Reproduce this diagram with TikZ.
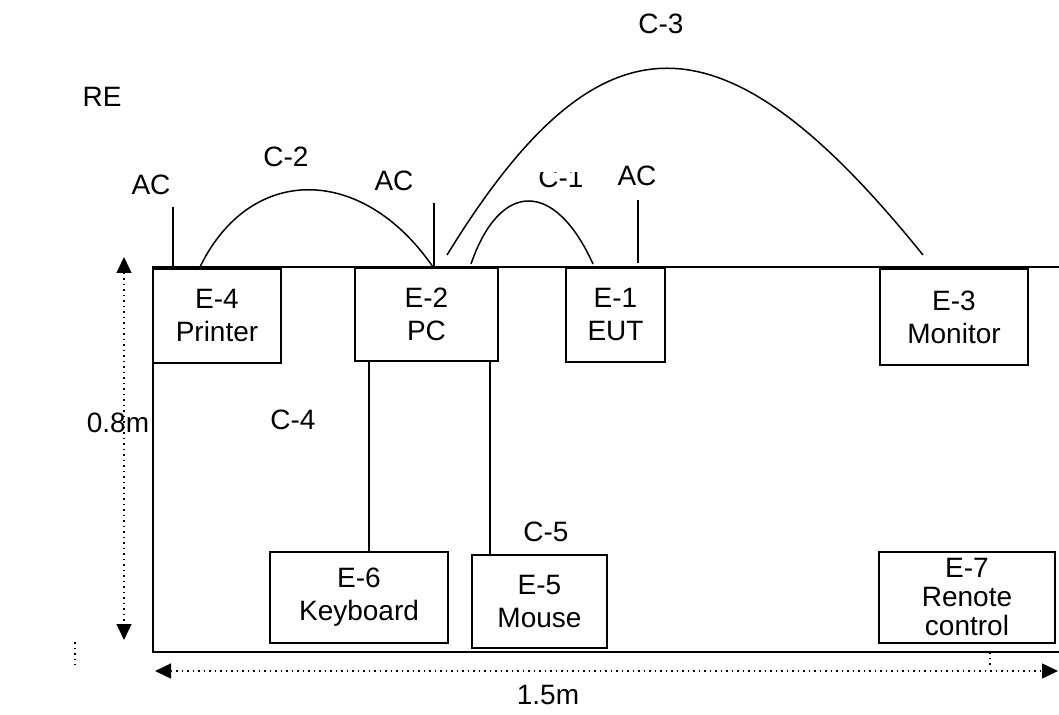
\documentclass[tikz,border=0pt]{standalone}
\usepackage{fontspec}
\setmainfont{Liberation Sans}
\usetikzlibrary{arrows.meta}
\begin{document}
\begin{tikzpicture}[x=0.5pt, y=-0.5pt,
    every node/.style = {font=\fontsize{14}{16.5}\selectfont, align=center, inner sep=0pt},
    unit/.style = {shape=rectangle, draw, line width=0.75pt},
    cable/.style = {line width=0.75pt},
    dimline/.style = {dotted, line width=0.75pt,
      {Triangle[length=8pt,width=7.5pt]}-{Triangle[length=8pt,width=7.5pt]}}]
    \useasboundingbox (0,0) rectangle (1059,715);
    % table
    \coordinate (tr) at (1059,267);
    \coordinate (tl) at (153,267);
    \coordinate (bl) at (153,652);
    \coordinate (br) at (1059,652);
    \draw[line width=1pt] (tr) -- (tl) -- (bl) -- (br);
    % equipment
    \node[unit, minimum width=64pt, minimum height=47pt] (printer) at (217,316) {E-4\\Printer};
    \node[unit, minimum width=71.5pt, minimum height=46.5pt] (pc) at (426.5,314.5) {E-2\\PC};
    \node[unit, minimum width=49.5pt, minimum height=47pt] (eut) at (615.5,315) {E-1\\EUT};
    \node[unit, minimum width=74pt, minimum height=48pt] (monitor) at (954,317) {E-3\\Monitor};
    \node[unit, minimum width=89pt, minimum height=45.5pt] (keyboard) at (359,597.5) {E-6\\Keyboard};
    \node[unit, minimum width=67.5pt, minimum height=46.5pt] (mouse) at (539.5,601.5) {E-5\\Mouse};
    \node[unit, minimum width=88pt, minimum height=45.5pt,
      font=\fontsize{14}{14.5}\selectfont] (remote) at (967,597.5) {E-7\\Renote\\control};
    % mains
    \coordinate (acA) at (173,207);
    \coordinate (acB) at (434,203);
    \coordinate (acC) at (638,200);
    \draw[cable] (acA) -- (acA |- tl);
    \draw[cable] (acB) -- (acB |- tl);
    \draw[cable] (acC) -- ++(0,63);
    % cables
    \coordinate (c2a) at (200,267);
    \coordinate (c2b) at (433,267);
    \coordinate (c1a) at (471,264);
    \coordinate (c1b) at (593,264);
    \coordinate (c3a) at (447,255);
    \coordinate (c3b) at (923,255);
    \draw[cable] (c2a) .. controls (250,164) and (362,164) .. (c2b);
    \draw[cable] (c1a) .. controls (500,180) and (555,180) .. (c1b);
    \draw[cable] (c3a) .. controls (600,6) and (722,6) .. (c3b);
    \coordinate (kbx) at (369,0);
    \coordinate (msx) at (490,0);
    \draw[cable] (pc.south -| kbx) -- (keyboard.north -| kbx);
    \draw[cable] (pc.south -| msx) -- (mouse.north -| msx);
    % labels
    \node (re) at (102,97) {RE};
    \node (c3) at (661,24) {C-3};
    \node (c2) at (286,157) {C-2};
    \node (ac1) at (151,185) {AC};
    \node (ac2) at (394,181) {AC};
    \node (ac3) at (637,176) {AC};
    \begin{scope}
      \clip (520,173) rectangle (600,200);
      \node (c1) at (561,178) {C-1};
    \end{scope}
    \node (c4) at (293,420) {C-4};
    \node (c5) at (546,532) {C-5};
    % dimensions
    \coordinate (htop) at (124,257);
    \coordinate (hbot) at (124,640);
    \coordinate (wl) at (155,671);
    \coordinate (wr) at (1058,671);
    \draw[dimline] (htop) -- (hbot);
    \draw[dimline] (wl) -- (wr);
    \coordinate (tickA) at (75,642);
    \coordinate (tickB) at (990,652);
    \draw[dotted, line width=0.75pt] (tickA) -- ++(0,23);
    \draw[dotted, line width=0.75pt] (tickB) -- ++(0,14);
    \node (len) at (118,423) {0.8m};
    \node (wid) at (548,695) {1.5m};
\end{tikzpicture}
\end{document}
